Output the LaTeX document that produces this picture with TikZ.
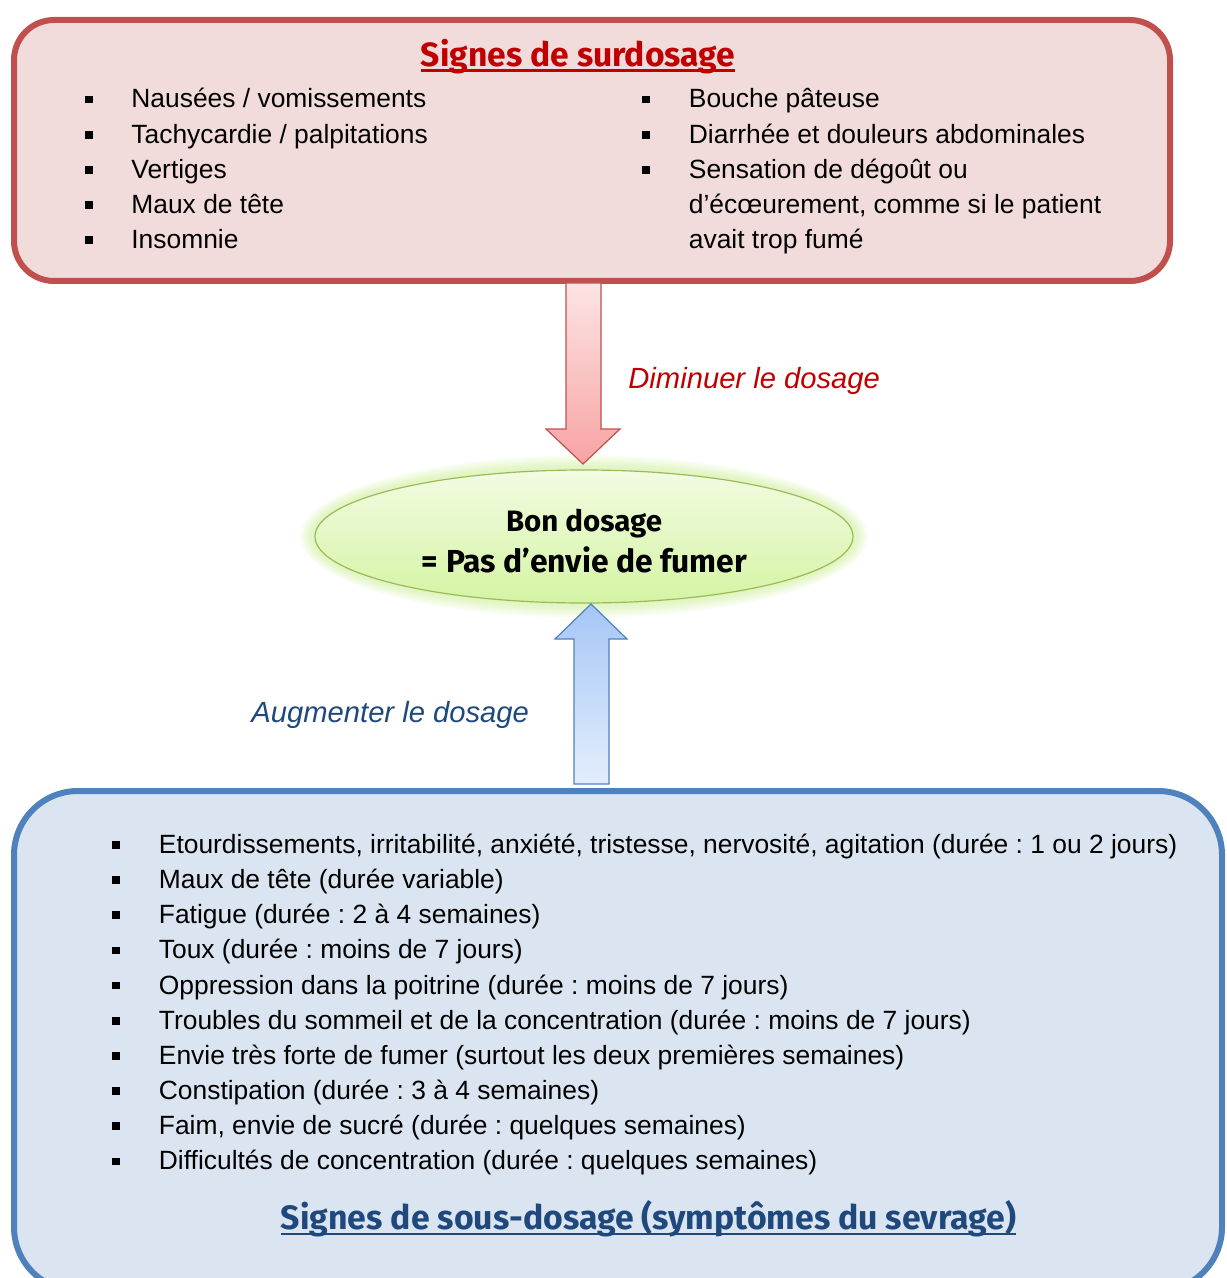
\documentclass[tikz,border=0pt]{standalone}
\usepackage{fontspec}
\setmainfont{Liberation Sans}
\newfontfamily\comicf{Fira Sans}
\usetikzlibrary{shapes.geometric,calc}
\definecolor{redborder}{HTML}{C0504D}
\definecolor{redfill}{HTML}{F2DCDB}
\definecolor{blueborder}{HTML}{4F81BD}
\definecolor{bluefill}{HTML}{DBE5F1}
\definecolor{titlered}{HTML}{C00000}
\definecolor{titleblue}{HTML}{1F497D}
\definecolor{ellborder}{HTML}{9BBB59}
\definecolor{elltop}{HTML}{F2FBE2}
\definecolor{ellbot}{HTML}{D5F4A4}
\definecolor{glowc}{HTML}{C6EC8A}
\definecolor{rarrtop}{HTML}{FDE4E4}
\definecolor{rarrbot}{HTML}{F7A3A3}
\definecolor{barrtop}{HTML}{A6C6F6}
\definecolor{barrbot}{HTML}{E3EEFC}
\newcommand\sqbullet{\rule[2.3pt]{3.8pt}{3.8pt}}
\frenchspacing
\begin{document}
\begin{tikzpicture}[x=0.5pt,y=-0.5pt,
  bodytxt/.style={inner sep=0pt, anchor=base west, font=\fontsize{13.2}{16}\selectfont},
  bul/.style={inner sep=0pt, anchor=base west},
  lbl/.style={inner sep=0pt, anchor=base west, font=\fontsize{14.6}{17}\selectfont\itshape},
  ttl/.style={inner sep=0pt, anchor=base},
  boxred/.style={draw=redborder, fill=redfill, line width=3pt, rounded corners=20pt, rectangle},
  boxblue/.style={draw=blueborder, fill=bluefill, line width=3pt, rounded corners=32pt, rectangle},
]
\useasboundingbox (0,0) rectangle (1226,1278);
\clip (0,0) rectangle (1226,1278);

% boxes
\node[boxblue, minimum width=604pt, minimum height=250pt] (bot) at (618,1041) {};
\node[boxred, minimum width=578pt, minimum height=130.5pt] (top) at (592,150.5) {};

% glow + ellipse
\foreach \i in {6,5,4,3,2,1}{
  \node[ellipse, fill=glowc, opacity=0.12, minimum width=269pt+\i*2.4pt, minimum height=66.5pt+\i*2.4pt] at (584,536.5) {};
}
\node[ellipse, draw=ellborder, line width=0.6pt, top color=elltop, bottom color=ellbot,
      minimum width=269pt, minimum height=66.5pt] (ell) at (584,536.5) {};

% red arrow (surdosage -> bon dosage)
\coordinate (rtip) at (583,464);
\shade[top color=rarrtop, bottom color=rarrbot, draw=redborder, line width=0.6pt]
  (566,283) -- (601,283) -- (601,429) -- (620,429) -- (rtip) -- (546,429) -- (566,429) -- cycle;

% blue arrow (sous-dosage -> bon dosage)
\coordinate (btip) at (591,604);
\shade[top color=barrtop, bottom color=barrbot, draw=blueborder, line width=0.6pt]
  (574,784) -- (574,639) -- (555,639) -- (btip) -- (627,639) -- (609,639) -- (609,784) -- cycle;

% top title
\node[ttl, text=titlered] (ttop) at (578,66.5) {\resizebox{157pt}{!}{\comicf\bfseries Signes de surdosage}};
\draw[titlered, line width=1.3pt] (421,70.5) -- (735,70.5);

% top left column
\foreach \y/\t [count=\k] in {108/{Nausées / vomissements},143.3/{Tachycardie / palpitations},178.3/{Vertiges},213.3/{Maux de tête},248.3/{Insomnie}}{
  \node[bul] (tlb\k) at (85,\y) {\sqbullet};
  \node[bodytxt] (tl\k) at (131,\y) {\t};
}
% top right column
\foreach \y/\t [count=\k] in {108/{Bouche pâteuse},143.3/{Diarrhée et douleurs abdominales},178.3/{Sensation de dégoût ou}}{
  \node[bul] (trb\k) at (642,\y) {\sqbullet};
  \node[bodytxt] (tr\k) at (688.5,\y) {\t};
}
\node[bodytxt] (tr4) at (688.5,213.3) {d’écœurement, comme si le patient};
\node[bodytxt] (tr5) at (688.5,248.3) {avait trop fumé};

% arrow labels
\node[lbl, text=titlered] (ldim) at (628,388) {Diminuer le dosage};
\node[lbl, text=titleblue] (laug) at (251,722.5) {Augmenter le dosage};

% ellipse text
\node[ttl] (e1) at (584,531.7) {\resizebox{78pt}{!}{\comicf\bfseries Bon dosage}};
\node[ttl] (e2) at (584.5,572) {\resizebox{162.5pt}{!}{\comicf\bfseries = Pas d’envie de fumer}};

% bottom list
\foreach \y/\t [count=\k] in {
  853.3/{Etourdissements, irritabilité, anxiété, tristesse, nervosité, agitation (durée : 1 ou 2 jours)},
  888.4/{Maux de tête (durée variable)},
  923.6/{Fatigue (durée : 2 à 4 semaines)},
  958.8/{Toux (durée : moins de 7 jours)},
  994/{Oppression dans la poitrine (durée : moins de 7 jours)},
  1029.1/{Troubles du sommeil et de la concentration (durée : moins de 7 jours)},
  1064.3/{Envie très forte de fumer (surtout les deux premières semaines)},
  1099.5/{Constipation (durée : 3 à 4 semaines)},
  1134.6/{Faim, envie de sucré (durée : quelques semaines)},
  1169.8/{Difficultés de concentration (durée : quelques semaines)}}{
  \node[bul] (bb\k) at (112,\y) {\sqbullet};
  \node[bodytxt] (bl\k) at (158.5,\y) {\t};
}

% bottom title
\node[ttl, text=titleblue] (tbot) at (648.5,1229) {\resizebox{367.5pt}{!}{\comicf\bfseries Signes de sous-dosage (symptômes du sevrage)}};
\draw[titleblue, line width=1.3pt] (281,1234) -- (1016,1234);
\end{tikzpicture}
\end{document}
